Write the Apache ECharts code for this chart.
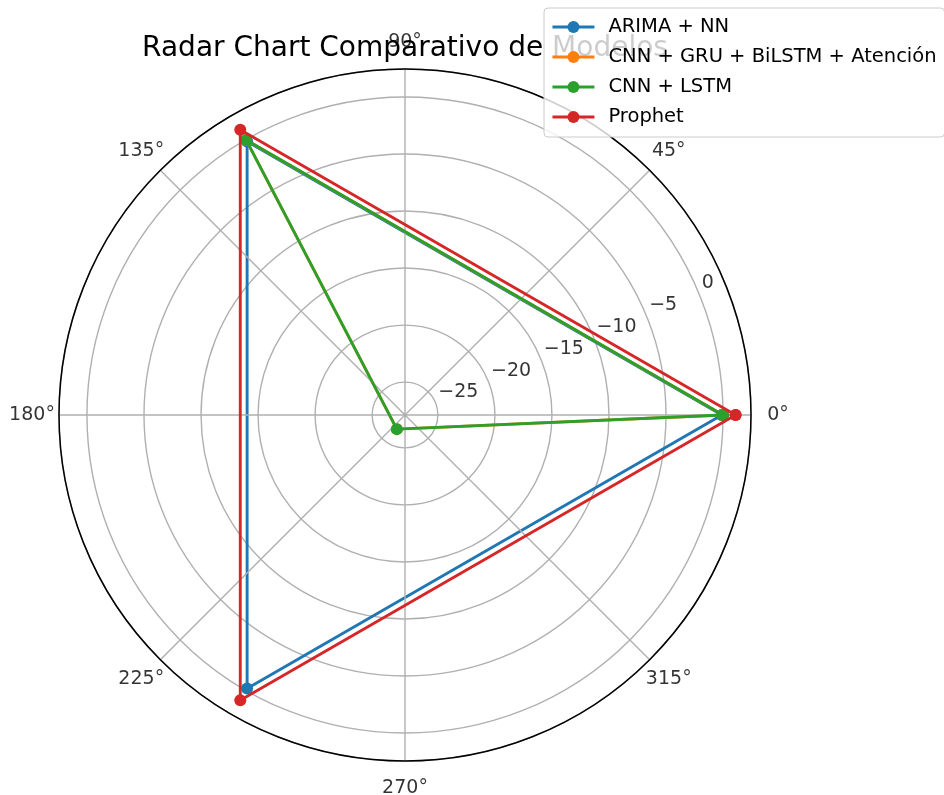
<!DOCTYPE html>
<html>
<head>
<meta charset="utf-8">
<script src="https://cdn.jsdelivr.net/npm/echarts@6/dist/echarts.min.js"></script>
<style>html,body{margin:0;padding:0;background:#fff;}#c{width:944px;height:795px;}</style>
</head>
<body>
<div id="c"></div>
<script>
// ---- data ----
var angles = [0, 120, 240];
var seriesNames = ['ARIMA + NN', 'CNN + GRU + BiLSTM + Atención', 'CNN + LSTM', 'Prophet'];
var arimaNN = [-0.1, -0.2, -0.2];
var cnnGruBilstm = [0.0, -0.05, -26.45];
var cnnLstm = [0.0, -0.05, -26.45];
var prophet = [1.1, 1.0, 1.0];
var radialTicks = [-25, -20, -15, -10, -5, 0];
var angleTicks = [0, 45, 90, 135, 180, 225, 270, 315];
var rMin = -27.88, rMax = 2.45;
var colors = ['#1f77b4', '#ff7f0e', '#2ca02c', '#d62728'];
var FONT = 'DejaVu Sans';

function closed(vals) {
  var d = vals.map(function (v, i) { return [v, angles[i]]; });
  d.push([vals[0], 360]);
  return d;
}
var allVals = [arimaNN, cnnGruBilstm, cnnLstm, prophet];
var lineSeries = allVals.map(function (vals, i) {
  return {
    name: seriesNames[i], type: 'line', coordinateSystem: 'polar', polarIndex: 0,
    data: closed(vals), symbol: 'circle', symbolSize: 12, showAllSymbol: true,
    lineStyle: { width: 2.9, color: colors[i] },
    itemStyle: { color: colors[i] },
    z: 3 + i, animation: false
  };
});
var angleLabelSeries = {
  type: 'scatter', coordinateSystem: 'polar', polarIndex: 1, symbolSize: 1, silent: true, animation: false,
  itemStyle: { color: 'rgba(0,0,0,0)' },
  data: angleTicks.map(function (a) { return { value: [1, a], name: a + '°' }; }),
  label: { show: true, position: 'inside', formatter: '{b}', color: '#000000', fontFamily: FONT, fontSize: 19 },
  z: 10
};
var radialLabelSeries = {
  type: 'scatter', coordinateSystem: 'polar', polarIndex: 0, symbolSize: 0, silent: true, animation: false,
  data: radialTicks.map(function (t) { return { value: [t, 22.5], name: String(t).replace('-', '\u2212') }; }),
  label: { show: true, position: 'right', distance: 3, offset: [0, -10], formatter: '{b}', color: '#000000', fontFamily: FONT, fontSize: 19 },
  z: 10
};

var chart = echarts.init(document.getElementById('c'), null, { renderer: 'canvas' });
chart.setOption({
  animation: false,
  backgroundColor: '#ffffff',
  title: {
    text: 'Radar Chart Comparativo de Modelos', left: 405, textAlign: 'center', top: 35, padding: 0, z: 1,
    textStyle: { fontFamily: FONT, fontSize: 28, fontWeight: 'normal', color: '#000000' }
  },
  legend: {
    orient: 'vertical', left: 544, top: 8, z: 20,
    padding: [9, 8, 10, 7], itemGap: 10, itemWidth: 42, itemHeight: 15,
    backgroundColor: 'rgba(255,255,255,0.8)', borderColor: '#cccccc', borderWidth: 1, borderRadius: 4,
    lineStyle: { width: 2.9 },
    textStyle: { fontFamily: FONT, fontSize: 19.5, color: '#000000', lineHeight: 20, padding: [0, 0, 0, 9] },
    data: seriesNames
  },
  polar: [
    { center: [405, 415], radius: 346 },
    { center: [405, 415], radius: 373 }
  ],
  angleAxis: [{
    polarIndex: 0, type: 'value', min: 0, max: 360, interval: 45, startAngle: 0, clockwise: false, z: 5,
    axisLine: { show: true, lineStyle: { color: '#000000', width: 1.5 } },
    axisTick: { show: false }, axisLabel: { show: false },
    splitLine: { show: true, lineStyle: { color: '#b0b0b0', width: 1.4 } }
  }, {
    polarIndex: 1, type: 'value', min: 0, max: 360, startAngle: 0, clockwise: false,
    axisLine: { show: false }, axisTick: { show: false }, axisLabel: { show: false }, splitLine: { show: false }
  }],
  radiusAxis: [{
    polarIndex: 0, type: 'value', min: rMin, max: rMax, minInterval: 5, maxInterval: 5, z: 1,
    axisLine: { show: false }, axisTick: { show: false }, axisLabel: { show: false },
    splitLine: { show: true, lineStyle: { color: '#b0b0b0', width: 1.4 } }
  }, {
    polarIndex: 1, type: 'value', min: 0, max: 1,
    axisLine: { show: false }, axisTick: { show: false }, axisLabel: { show: false }, splitLine: { show: false }
  }],
  series: lineSeries.concat([angleLabelSeries, radialLabelSeries])
});
</script>
</body>
</html>
